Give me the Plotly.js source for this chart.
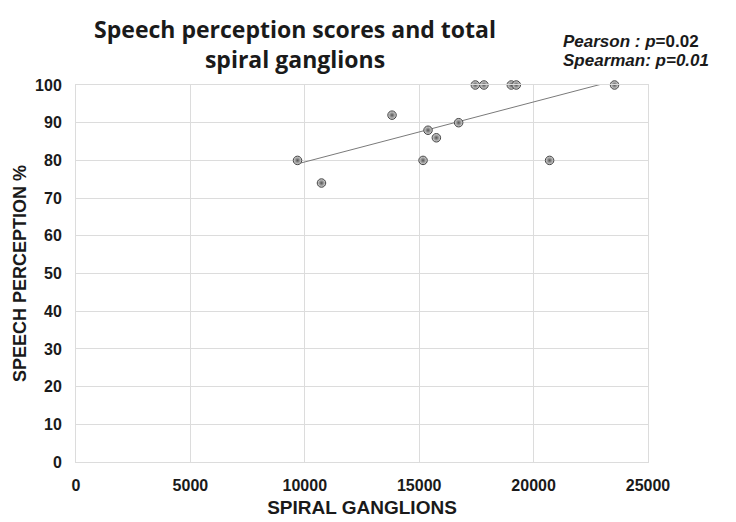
<!DOCTYPE html>
<html>
<head>
<meta charset="utf-8">
<script src="https://cdn.plot.ly/plotly-3.0.1.min.js"></script>
<style>
  html, body { margin: 0; padding: 0; background: #ffffff; }
  #chart { width: 736px; height: 522px; }
</style>
</head>
<body>
<div id="chart"></div>
<script>
// Data
const spiralGanglions = [9681, 10729, 13813, 15168, 15386, 15750, 16724, 17453, 17830, 19025, 19243, 20699, 23537];
const speechPerception = [80, 74, 92, 80, 88, 86, 90, 100, 100, 100, 100, 80, 100];
const xTickValues = [0, 5000, 10000, 15000, 20000, 25000];
const yTickValues = [0, 10, 20, 30, 40, 50, 60, 70, 80, 90, 100];

// Linear least-squares trendline fitted to the data
const n = spiralGanglions.length;
const mx = spiralGanglions.reduce((a, b) => a + b, 0) / n;
const my = speechPerception.reduce((a, b) => a + b, 0) / n;
let sxy = 0, sxx = 0;
for (let i = 0; i < n; i++) {
  sxy += (spiralGanglions[i] - mx) * (speechPerception[i] - my);
  sxx += (spiralGanglions[i] - mx) ** 2;
}
const slope = sxy / sxx;
const intercept = my - slope * mx;
const xMin = Math.min(...spiralGanglions);
const xMax = Math.max(...spiralGanglions);
const trendX = [xMin, xMax];
const trendY = trendX.map(v => intercept + slope * v);

const tickFont = { family: 'Liberation Sans, Arial, sans-serif', size: 16, color: '#1a1a1a', weight: 'bold' };
const gridColor = '#dcdcdc';

const traces = [
  {
    x: trendX, y: trendY, type: 'scatter', mode: 'lines',
    line: { color: '#7a7a7a', width: 1 },
    hoverinfo: 'skip', showlegend: false
  },
  {
    x: spiralGanglions, y: speechPerception, type: 'scatter', mode: 'markers',
    cliponaxis: false,
    marker: {
      size: 8.5, color: '#dcdcdc',
      gradient: { type: 'radial', color: '#555555' },
      line: { color: '#444444', width: 1 }
    },
    showlegend: false
  }
];

const L = 76, R = 648, T = 85, B = 462;
function py(px) { return (B - px) / (B - T); }
function pxr(px) { return (px - L) / (R - L); }

const layout = {
  width: 736, height: 522,
  paper_bgcolor: '#ffffff', plot_bgcolor: '#ffffff',
  margin: { l: L, r: 736 - R, t: T, b: 522 - B, pad: 0 },
  title: {
    text: 'Speech perception scores and total<br>spiral ganglions',
    font: { family: '"Open Sans", Lato, sans-serif', size: 23, color: '#1a1a1a', weight: 'bold' },
    xref: 'paper', x: pxr(295), xanchor: 'center',
    yref: 'container', y: 1 - 38 / 522, yanchor: 'top'
  },
  xaxis: {
    range: [0, 25000], tickvals: xTickValues, ticktext: xTickValues.map(String),
    showgrid: true, gridcolor: gridColor, gridwidth: 1,
    zeroline: false, showline: true, mirror: true, linecolor: gridColor, linewidth: 1,
    ticks: '', ticklabelstandoff: 9, tickfont: tickFont,
    title: { text: 'SPIRAL GANGLIONS', font: { family: 'Liberation Sans, Arial, sans-serif', size: 19, color: '#1a1a1a', weight: 'bold' }, standoff: 7 },
    fixedrange: true
  },
  yaxis: {
    range: [0, 100], tickvals: yTickValues, ticktext: yTickValues.map(String),
    showgrid: true, gridcolor: gridColor, gridwidth: 1,
    zeroline: false, showline: true, mirror: true, linecolor: gridColor, linewidth: 1,
    ticks: '', ticklabelstandoff: 10, tickfont: tickFont,
    title: { text: 'SPEECH PERCEPTION %', font: { family: 'Liberation Sans, Arial, sans-serif', size: 18, color: '#1a1a1a', weight: 'bold' }, standoff: 3 },
    fixedrange: true
  },
  annotations: [
    {
      text: '<b><i>Pearson : p</i>=0.02</b>',
      xref: 'paper', yref: 'paper', x: pxr(561), y: py(41),
      xanchor: 'left', yanchor: 'middle', showarrow: false,
      font: { family: 'Liberation Sans, Arial, sans-serif', size: 17, color: '#1a1a1a' }
    },
    {
      text: '<b><i>Spearman: p=0.01</i></b>',
      xref: 'paper', yref: 'paper', x: pxr(561), y: py(60),
      xanchor: 'left', yanchor: 'middle', showarrow: false,
      font: { family: 'Liberation Sans, Arial, sans-serif', size: 17, color: '#1a1a1a' }
    }
  ]
};

Plotly.newPlot('chart', traces, layout, { displayModeBar: false, staticPlot: true });
</script>
</body>
</html>
